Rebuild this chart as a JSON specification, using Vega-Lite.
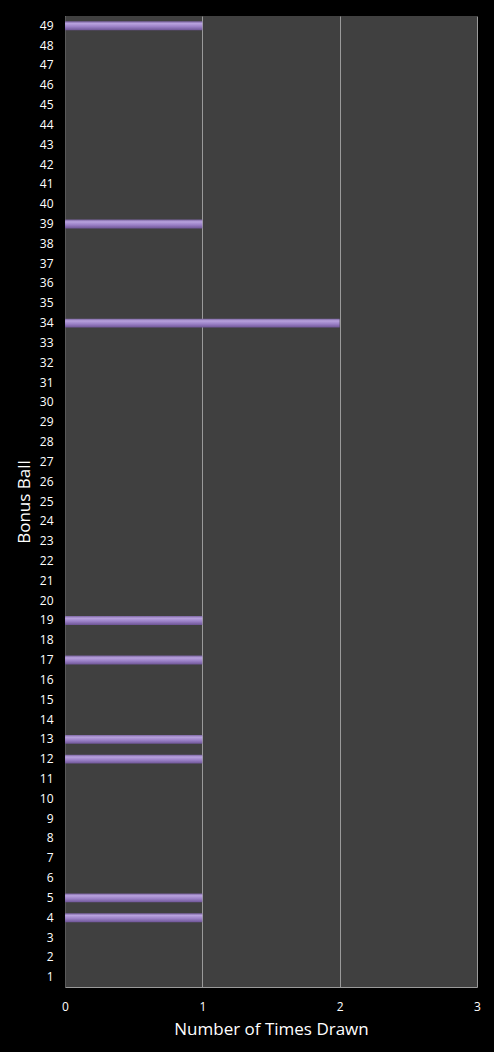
{
  "$schema": "https://vega.github.io/schema/vega-lite/v6.json",
  "width": 412,
  "height": 971,
  "autosize": {"type": "none"},
  "padding": {"left": 65, "top": 16, "right": 17, "bottom": 65},
  "background": "#000000",
  "config": {
    "view": {"fill": "#404040", "stroke": null},
    "font": "Open Sans"
  },
  "data": {
    "values": [
      {"ball": 1, "drawn": 0}, {"ball": 2, "drawn": 0}, {"ball": 3, "drawn": 0},
      {"ball": 4, "drawn": 1}, {"ball": 5, "drawn": 1}, {"ball": 6, "drawn": 0},
      {"ball": 7, "drawn": 0}, {"ball": 8, "drawn": 0}, {"ball": 9, "drawn": 0},
      {"ball": 10, "drawn": 0}, {"ball": 11, "drawn": 0}, {"ball": 12, "drawn": 1},
      {"ball": 13, "drawn": 1}, {"ball": 14, "drawn": 0}, {"ball": 15, "drawn": 0},
      {"ball": 16, "drawn": 0}, {"ball": 17, "drawn": 1}, {"ball": 18, "drawn": 0},
      {"ball": 19, "drawn": 1}, {"ball": 20, "drawn": 0}, {"ball": 21, "drawn": 0},
      {"ball": 22, "drawn": 0}, {"ball": 23, "drawn": 0}, {"ball": 24, "drawn": 0},
      {"ball": 25, "drawn": 0}, {"ball": 26, "drawn": 0}, {"ball": 27, "drawn": 0},
      {"ball": 28, "drawn": 0}, {"ball": 29, "drawn": 0}, {"ball": 30, "drawn": 0},
      {"ball": 31, "drawn": 0}, {"ball": 32, "drawn": 0}, {"ball": 33, "drawn": 0},
      {"ball": 34, "drawn": 2}, {"ball": 35, "drawn": 0}, {"ball": 36, "drawn": 0},
      {"ball": 37, "drawn": 0}, {"ball": 38, "drawn": 0}, {"ball": 39, "drawn": 1},
      {"ball": 40, "drawn": 0}, {"ball": 41, "drawn": 0}, {"ball": 42, "drawn": 0},
      {"ball": 43, "drawn": 0}, {"ball": 44, "drawn": 0}, {"ball": 45, "drawn": 0},
      {"ball": 46, "drawn": 0}, {"ball": 47, "drawn": 0}, {"ball": 48, "drawn": 0},
      {"ball": 49, "drawn": 1}
    ]
  },
  "mark": {
    "type": "bar",
    "color": {
      "gradient": "linear",
      "x1": 0, "y1": 0, "x2": 0, "y2": 1,
      "stops": [
        {"offset": 0, "color": "#7a63a0"},
        {"offset": 0.25, "color": "#b8a2de"},
        {"offset": 0.6, "color": "#9a80c6"},
        {"offset": 1, "color": "#6e5596"}
      ]
    }
  },
  "encoding": {
    "y": {
      "field": "ball",
      "type": "ordinal",
      "sort": "descending",
      "scale": {"paddingInner": 0.55, "paddingOuter": 0.27},
      "axis": {
        "title": "Bonus Ball",
        "titleColor": "#ffffff",
        "titleFontSize": 17,
        "titleFontWeight": "normal",
        "titlePadding": 6,
        "labelColor": "#ffffff",
        "labelFontSize": 12,
        "labelPadding": 12,
        "ticks": false,
        "domainColor": "#5a5a5a",
        "grid": false
      }
    },
    "x": {
      "field": "drawn",
      "type": "quantitative",
      "scale": {"domain": [0, 3], "nice": false},
      "axis": {
        "title": "Number of Times Drawn",
        "values": [0, 1, 2, 3],
        "format": "d",
        "labelFlush": false,
        "titleColor": "#ffffff",
        "titleFontSize": 17,
        "titleFontWeight": "normal",
        "titlePadding": 9,
        "labelColor": "#ffffff",
        "labelFontSize": 12,
        "labelPadding": 14,
        "ticks": false,
        "domainColor": "#9a9a9a",
        "grid": true,
        "gridColor": "#9a9a9a",
        "gridWidth": 1
      }
    }
  }
}
